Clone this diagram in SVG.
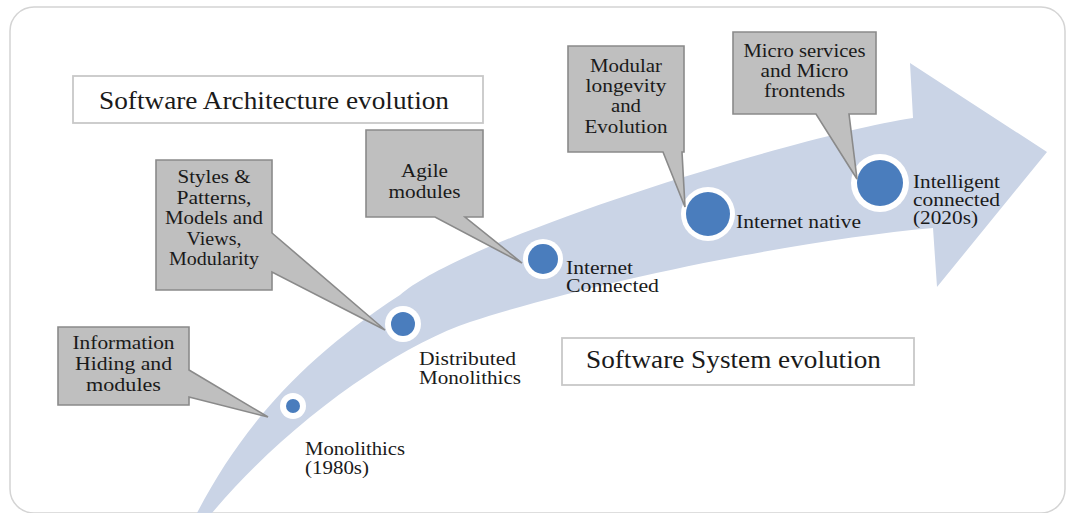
<svg xmlns="http://www.w3.org/2000/svg" width="1070" height="513" viewBox="0 0 1070 513">
<style>
.t{font-family:"Liberation Serif","Times New Roman",serif;fill:#1a1a1a;}
.c{font-size:18.5px;text-anchor:middle;}
.l{font-size:18.5px;}
.h{font-size:25px;}
.callout{fill:#bfbfbf;stroke:#8a8a8a;stroke-width:1.6;stroke-linejoin:miter;}
.title{fill:#ffffff;stroke:#c8c8c8;stroke-width:1.8;}
.ring{fill:#ffffff;}
.dot{fill:#4a7dbd;}
</style>
<rect x="10" y="7" width="1055" height="506" rx="24" fill="#ffffff" stroke="#d4d4d4" stroke-width="1.5"/>
<g id="timeline-arrow">
<path d="M197,513 C240,430 300,360 400,295 C465,238 800,135 913,118 L910,63 L1047,152 L937,287 L933,228 C800,240 600,280 470,322 C400,345 290,420 212,513 Z" fill="#cad4e6"/>
</g>
<g id="title-architecture">
<rect class="title" x="73" y="76" width="410" height="47"/>
<text class="t h" x="99" y="109" textLength="350" lengthAdjust="spacingAndGlyphs">Software Architecture evolution</text>
</g>
<g id="title-system">
<rect class="title" x="562" y="338" width="352" height="47"/>
<text class="t h" x="586" y="368" textLength="295" lengthAdjust="spacingAndGlyphs">Software System evolution</text>
</g>
<g id="milestone-monolithics">
<circle class="ring" cx="293" cy="406" r="13"/>
<circle class="dot" cx="293" cy="406" r="7"/>
<text class="t l" x="305" y="455" textLength="100" lengthAdjust="spacingAndGlyphs">Monolithics</text>
<text class="t l" x="305" y="474" textLength="64" lengthAdjust="spacingAndGlyphs">(1980s)</text>
</g>
<g id="milestone-distributed">
<circle class="ring" cx="403" cy="324" r="18"/>
<circle class="dot" cx="403" cy="324" r="12"/>
<text class="t l" x="419" y="365" textLength="97" lengthAdjust="spacingAndGlyphs">Distributed</text>
<text class="t l" x="419" y="384" textLength="102" lengthAdjust="spacingAndGlyphs">Monolithics</text>
</g>
<g id="milestone-internet-connected">
<circle class="ring" cx="543" cy="259" r="20"/>
<circle class="dot" cx="543" cy="259" r="15"/>
<text class="t l" x="566" y="274" textLength="67" lengthAdjust="spacingAndGlyphs">Internet</text>
<text class="t l" x="566" y="292" textLength="93" lengthAdjust="spacingAndGlyphs">Connected</text>
</g>
<g id="milestone-internet-native">
<circle class="ring" cx="708" cy="214" r="27"/>
<circle class="dot" cx="708" cy="214" r="22"/>
<text class="t l" x="736" y="228" textLength="125" lengthAdjust="spacingAndGlyphs">Internet native</text>
</g>
<g id="milestone-intelligent">
<circle class="ring" cx="880" cy="183" r="29"/>
<circle class="dot" cx="880" cy="183" r="23"/>
<text class="t l" x="913" y="188" textLength="87" lengthAdjust="spacingAndGlyphs">Intelligent</text>
<text class="t l" x="913" y="206" textLength="87" lengthAdjust="spacingAndGlyphs">connected</text>
<text class="t l" x="913" y="224" textLength="65" lengthAdjust="spacingAndGlyphs">(2020s)</text>
</g>
<g id="callout-information-hiding">
<path class="callout" d="M58,327 H189 V370 L268,417 L189,397 V405 H58 Z"/>
<text class="t c" x="123.5" y="349" textLength="102" lengthAdjust="spacingAndGlyphs">Information</text>
<text class="t c" x="123.5" y="370" textLength="97" lengthAdjust="spacingAndGlyphs">Hiding and</text>
<text class="t c" x="123.5" y="391" textLength="75" lengthAdjust="spacingAndGlyphs">modules</text>
</g>
<g id="callout-styles-patterns">
<path class="callout" d="M156,160 H272 V233 L385,330 L272,272 V290 H156 Z"/>
<text class="t c" x="214" y="183" textLength="73" lengthAdjust="spacingAndGlyphs">Styles &amp;</text>
<text class="t c" x="214" y="203.5" textLength="75" lengthAdjust="spacingAndGlyphs">Patterns,</text>
<text class="t c" x="214" y="224" textLength="98" lengthAdjust="spacingAndGlyphs">Models and</text>
<text class="t c" x="214" y="244.5" textLength="55" lengthAdjust="spacingAndGlyphs">Views,</text>
<text class="t c" x="214" y="265" textLength="90" lengthAdjust="spacingAndGlyphs">Modularity</text>
</g>
<g id="callout-agile">
<path class="callout" d="M366,130 H483 V217 H465 L522,263 L435,217 H366 Z"/>
<text class="t c" x="424.5" y="177" textLength="47" lengthAdjust="spacingAndGlyphs">Agile</text>
<text class="t c" x="424.5" y="198" textLength="72" lengthAdjust="spacingAndGlyphs">modules</text>
</g>
<g id="callout-modular">
<path class="callout" d="M568,46 H684 V152 H682 L685,207 L663,152 H568 Z"/>
<text class="t c" x="626" y="72" textLength="72" lengthAdjust="spacingAndGlyphs">Modular</text>
<text class="t c" x="626" y="92" textLength="81" lengthAdjust="spacingAndGlyphs">longevity</text>
<text class="t c" x="626" y="112" textLength="30" lengthAdjust="spacingAndGlyphs">and</text>
<text class="t c" x="626" y="133" textLength="83" lengthAdjust="spacingAndGlyphs">Evolution</text>
</g>
<g id="callout-micro">
<path class="callout" d="M733,32 H876 V114 H849 L857,179 L816,114 H733 Z"/>
<text class="t c" x="804.5" y="57" textLength="122" lengthAdjust="spacingAndGlyphs">Micro services</text>
<text class="t c" x="804.5" y="77" textLength="88" lengthAdjust="spacingAndGlyphs">and Micro</text>
<text class="t c" x="804.5" y="97" textLength="81" lengthAdjust="spacingAndGlyphs">frontends</text>
</g>
</svg>
